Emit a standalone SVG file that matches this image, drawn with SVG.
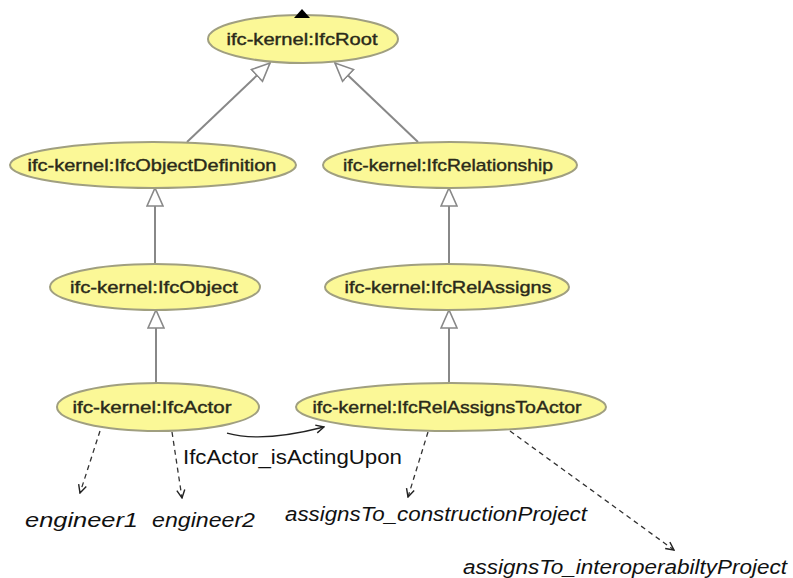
<svg xmlns="http://www.w3.org/2000/svg" width="793" height="578" viewBox="0 0 793 578">
<defs>
<style>
.node ellipse{fill:#fbf897;stroke:#a09f80;stroke-width:2}
.node text{font-family:"Liberation Sans",Arial,sans-serif;font-size:17px;fill:#2a2a1a;stroke:#2a2a1a;stroke-width:0.4;text-anchor:middle}
.gen{stroke:#888;stroke-width:2;fill:none}
.dash{stroke:#333;stroke-width:1.3;fill:none;stroke-dasharray:5,4}
.rel{stroke:#222;stroke-width:1.3;fill:none}
.lbl{font-family:"Liberation Sans",Arial,sans-serif;font-size:21px;fill:#111}
.inst{font-family:"Liberation Sans",Arial,sans-serif;font-size:20px;font-style:italic;fill:#111}
</style>
<marker id="tri" viewBox="0 0 20 18" refX="19" refY="9" markerWidth="20" markerHeight="18" markerUnits="userSpaceOnUse" orient="auto">
<path d="M1,1 L19,9 L1,17 Z" fill="#fff" stroke="#888" stroke-width="1.6"/>
</marker>
<marker id="open" viewBox="0 0 10 10" refX="9" refY="5" markerWidth="10" markerHeight="10" markerUnits="userSpaceOnUse" orient="auto">
<path d="M1,1 L9,5 L1,9" fill="none" stroke="#222" stroke-width="1.4"/>
</marker>
</defs>
<rect width="793" height="578" fill="#fff"/>
<g id="connectors">
<path class="gen" d="M187,142 L270,63" marker-end="url(#tri)"/>
<path class="gen" d="M418,142 L335,63" marker-end="url(#tri)"/>
<path class="gen" d="M155,264 L155,188" marker-end="url(#tri)"/>
<path class="gen" d="M449,264 L449,188" marker-end="url(#tri)"/>
<path class="gen" d="M156,383 L156,310" marker-end="url(#tri)"/>
<path class="gen" d="M449,383 L449,310" marker-end="url(#tri)"/>
<path class="rel" d="M227,433 Q262,443 324,427" marker-end="url(#open)"/>
<path class="dash" d="M100,431 L80,493" marker-end="url(#open)"/>
<path class="dash" d="M172,432 L182,498" marker-end="url(#open)"/>
<path class="dash" d="M428,432 L408,497" marker-end="url(#open)"/>
<path class="dash" d="M510,431 L674,550" marker-end="url(#open)"/>
</g>
<g id="IfcRoot" class="node"><ellipse cx="303" cy="39" rx="95" ry="24"/><text x="302" y="45" textLength="151" lengthAdjust="spacingAndGlyphs">ifc-kernel:IfcRoot</text></g>
<path d="M294,18 L302,9 L310,18 Z" fill="#000"/>
<g id="IfcObjectDefinition" class="node"><ellipse cx="153" cy="165" rx="143" ry="23"/><text x="152" y="171" textLength="249" lengthAdjust="spacingAndGlyphs">ifc-kernel:IfcObjectDefinition</text></g>
<g id="IfcRelationship" class="node"><ellipse cx="450" cy="165" rx="127" ry="23"/><text x="448" y="171" textLength="210" lengthAdjust="spacingAndGlyphs">ifc-kernel:IfcRelationship</text></g>
<g id="IfcObject" class="node"><ellipse cx="155" cy="287" rx="105" ry="23"/><text x="154" y="293" textLength="168" lengthAdjust="spacingAndGlyphs">ifc-kernel:IfcObject</text></g>
<g id="IfcRelAssigns" class="node"><ellipse cx="447" cy="287" rx="122" ry="23"/><text x="448" y="293" textLength="207" lengthAdjust="spacingAndGlyphs">ifc-kernel:IfcRelAssigns</text></g>
<g id="IfcActor" class="node"><ellipse cx="158" cy="407" rx="101" ry="24"/><text x="152" y="413" textLength="159" lengthAdjust="spacingAndGlyphs">ifc-kernel:IfcActor</text></g>
<g id="IfcRelAssignsToActor" class="node"><ellipse cx="451" cy="407" rx="155" ry="24"/><text x="447" y="413" textLength="269" lengthAdjust="spacingAndGlyphs">ifc-kernel:IfcRelAssignsToActor</text></g>
<text class="lbl" x="183" y="464" textLength="219" lengthAdjust="spacingAndGlyphs">IfcActor_isActingUpon</text>
<g id="engineer1"><text class="inst" x="25" y="527" textLength="113" lengthAdjust="spacingAndGlyphs">engineer1</text></g>
<g id="engineer2"><text class="inst" x="152" y="527" textLength="103" lengthAdjust="spacingAndGlyphs">engineer2</text></g>
<g id="assignsTo_constructionProject"><text class="inst" x="285" y="521" textLength="302" lengthAdjust="spacingAndGlyphs">assignsTo_constructionProject</text></g>
<g id="assignsTo_interoperabiltyProject"><text class="inst" x="463" y="574" textLength="324" lengthAdjust="spacingAndGlyphs">assignsTo_interoperabiltyProject</text></g>
</svg>
